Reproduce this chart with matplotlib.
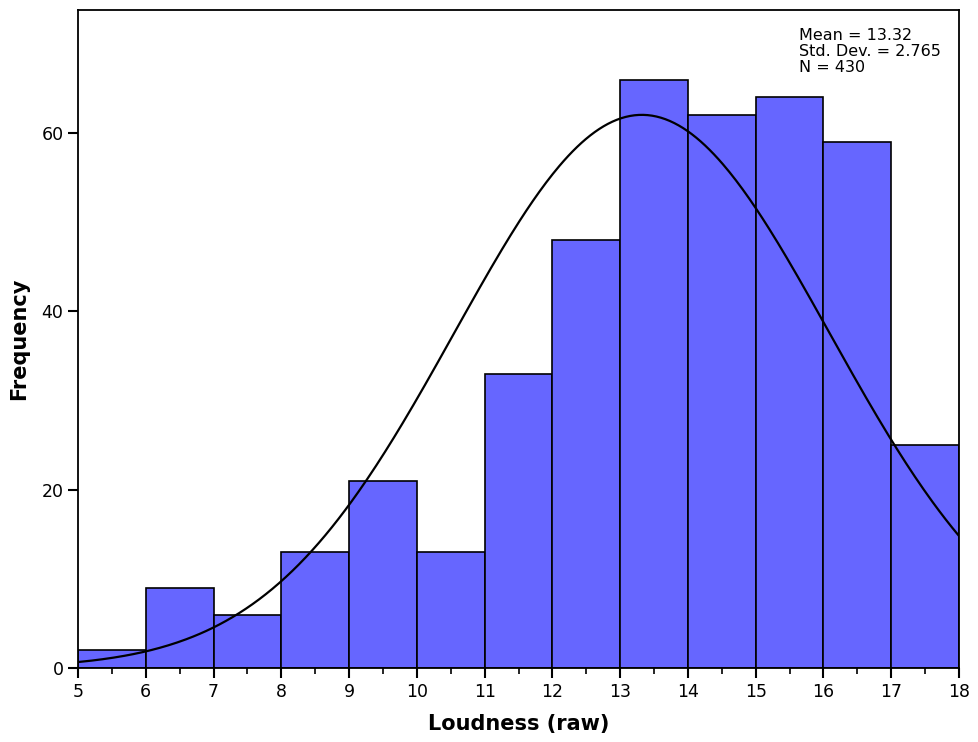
import numpy as np
import matplotlib.pyplot as plt

# bin edges and counts
edges = [5, 6, 7, 8, 9, 10, 11, 12, 13, 14, 15, 16, 17, 18]
counts = [2, 9, 6, 13, 21, 13, 33, 48, 66, 62, 64, 59, 25]
mean = 13.32
sd = 2.765
n = 430

fig = plt.figure(figsize=(9.79, 7.42), dpi=100)
ax = fig.add_axes([0.0797, 0.0997, 0.8999, 0.8868])

left = np.array(edges[:-1])
width = np.diff(edges)
ax.bar(left, counts, width=width, align="edge", color="#6666FF",
       edgecolor="black", linewidth=1.2, zorder=2)

# normal curve scaled to counts
x = np.linspace(5, 18, 400)
y = n * 1.0 / (sd * np.sqrt(2 * np.pi)) * np.exp(-0.5 * ((x - mean) / sd) ** 2)
ax.plot(x, y, color="black", linewidth=1.6, zorder=3)

ax.set_xlim(5, 18)
ax.set_ylim(0, 73.8)
ax.set_xticks(range(5, 19))
ax.set_xticks(np.arange(5.5, 18, 1), minor=True)
ax.set_yticks([0, 20, 40, 60])
ax.tick_params(axis="both", which="major", direction="out", length=7, width=1.5,
               labelsize=12.5, color="black")
ax.tick_params(axis="x", which="minor", direction="out", length=4, width=1.2)
for s in ax.spines.values():
    s.set_linewidth(1.3)

ax.set_xlabel("Loudness (raw)", fontsize=15, fontweight="bold", labelpad=10)
ax.set_ylabel("Frequency", fontsize=15, fontweight="bold", labelpad=9)

ax.text(0.818, 0.972, "Mean = 13.32\nStd. Dev. = 2.765\nN = 430",
        transform=ax.transAxes, fontsize=11.5, va="top", ha="left",
        linespacing=1.05)

fig.savefig("out.png", dpi=100)
